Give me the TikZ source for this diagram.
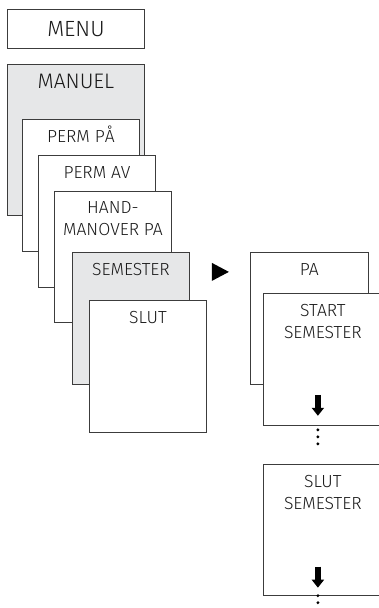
\documentclass[tikz,border=0pt]{standalone}
\usepackage{fontspec}
\setmainfont{Fira Sans}[UprightFont=* Light]
\usetikzlibrary{positioning,arrows.meta}

\definecolor{panel}{HTML}{E6E7E8}
\definecolor{edge}{HTML}{3C3C3C}

\begin{document}
\begin{tikzpicture}[
  x=1pt, y=-1pt,
  font=\fontsize{17.5}{22}\selectfont,
  card/.style={draw=edge, line width=0.9pt, fill=white, anchor=north west,
    inner sep=0pt, minimum width=117pt, minimum height=132pt},
  grey/.style={fill=panel},
  txt/.style={inner sep=0pt, align=center, text=black!90},
  big/.style={font=\fontsize{22}{26}\selectfont},
  down/.style={-{Triangle[width=12pt,length=8pt]}, line width=6.5pt},
  node distance=11pt
]
\useasboundingbox (0,0) rectangle (379,608);

% Menu stack
\node[card, big, text=black!90, minimum width=137pt, minimum height=39pt] (menu) at (7,9) {MENU};

\node[card, grey, minimum width=137pt, minimum height=151pt] (manuel) at ([yshift=-15pt]menu.south west) {};
\node[txt, font=\fontsize{21}{26}\selectfont, below=10pt of manuel.north] (manuelT) {MANUEL};

\node[card] (permpa) at ([shift={(15,55)}]manuel.north west) {};
\node[txt, below=of permpa.north] (permpaT) {PERM P\smash{Å}};

\node[card] (permav) at ([shift={(16,36)}]permpa.north west) {};
\node[txt, below=of permav.north] (permavT) {PERM AV};

\node[card, minimum height=131pt] (hand) at ([shift={(16,36)}]permav.north west) {};
\node[txt, below=10pt of hand.north] (handT) {HAND-\\MANOVER PA};

\node[card, grey] (semester) at ([shift={(18,61)}]hand.north west) {};
\node[txt, below=of semester.north] (semesterT) {SEMESTER};

\node[card] (slut) at ([shift={(17,48)}]semester.north west) {};
\node[txt, below=of slut.north] (slutT) {SLUT};

% Arrow to submenu
\fill[black] ([shift={(22,11)}]semester.north east) -- ++(17,9) -- ++(-17,9) -- cycle;

% Holiday submenu
\node[card, minimum width=118pt] (pa) at ([xshift=60pt]semester.north east) {};
\node[txt, below=of pa.north] (paT) {PA};

\node[card, minimum width=119pt] (start) at ([shift={(13,41)}]pa.north west) {};
\node[txt, below=of start.north] (startT) {START\\SEMESTER};

\node[card, minimum width=119pt, minimum height=131pt] (slutsem) at ([yshift=-38pt]start.south west) {};
\node[txt, below=of slutsem.north] (slutsemT) {SLUT\\SEMESTER};

% Down arrows and dots
\draw[down] ([shift={(55,-31)}]start.south west) -- ([shift={(55,-10)}]start.south west);
\foreach \d in {4,11,18}
  \fill ([shift={(55,\d)}]start.south west) circle (1.6pt);

\draw[down] ([shift={(55,-29)}]slutsem.south west) -- ([shift={(55,-8)}]slutsem.south west);
\foreach \d in {0,7,14}
  \fill ([shift={(55,\d)}]slutsem.south west) circle (1.6pt);

\end{tikzpicture}
\end{document}
